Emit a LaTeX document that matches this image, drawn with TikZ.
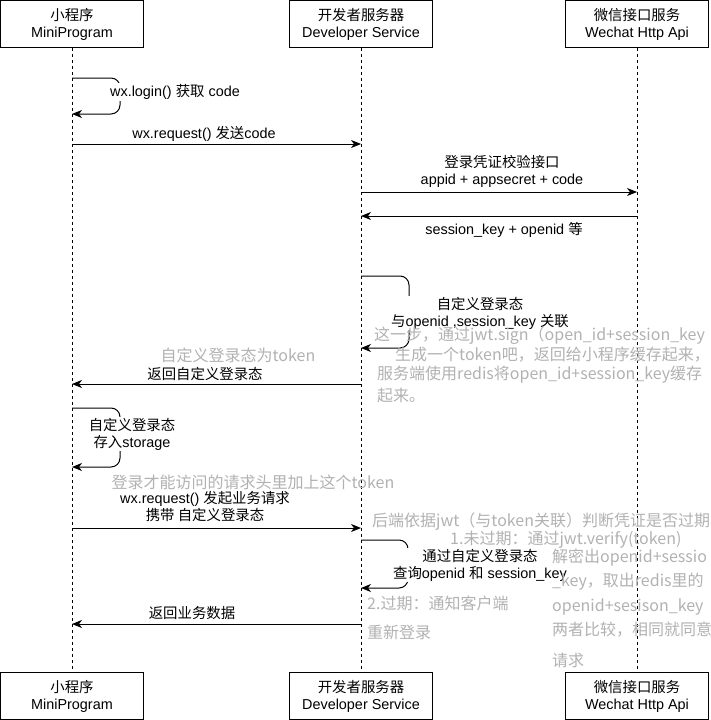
\documentclass[tikz,border=0pt]{standalone}
\usepackage{fontspec}
\setmainfont{Liberation Sans}
\newfontfamily\cjk{Noto Sans CJK SC}
\newcommand\zh[1]{{\cjk #1}}
\newcommand\lblfont{\fontsize{14.4}{17}\selectfont}
\usetikzlibrary{arrows.meta}
\definecolor{notegray}{RGB}{178,178,178}
\begin{document}
\begin{tikzpicture}[x=1pt,y=-1pt,
  box/.style={draw, line width=1pt, minimum width=143pt, minimum height=47pt, align=center, font=\lblfont, inner sep=0pt},
  life/.style={line width=1pt, dash pattern=on 3pt off 3pt},
  msg/.style={line width=1pt, -{Stealth[length=10pt,width=8pt,inset=3pt]}},
  lbl/.style={font=\lblfont, align=center, fill=white, inner sep=1pt},
  note/.style={font=\cjk\fontsize{16}{20}\selectfont, text=notegray, anchor=west, inner sep=0pt}]
\fill[white] (0,0) rectangle (710,720);
\useasboundingbox (0,0) rectangle (710,720);
% participant boxes
\node[box] (mpT) at (72,24) {\zh{小程序}\\MiniProgram};
\node[box] (dsT) at (361,24) {\zh{开发者服务器}\\Developer Service};
\node[box] (wxT) at (637,24) {\zh{微信接口服务}\\Wechat Http Api};
\node[box] (mpB) at (72,696) {\zh{小程序}\\MiniProgram};
\node[box] (dsB) at (361,696) {\zh{开发者服务器}\\Developer Service};
\node[box] (wxB) at (637,696) {\zh{微信接口服务}\\Wechat Http Api};
% lifelines
\draw[life] (mpT.south) -- (mpB.north);
\draw[life] (dsT.south) -- (dsB.north);
\draw[life] (wxT.south) -- (wxB.north);
% coordinates on lifelines
\coordinate (a1) at (72,78);  \coordinate (a2) at (72,114);
\coordinate (b1) at (72,144); \coordinate (b2) at (361,144);
\coordinate (c1) at (361,192); \coordinate (c2) at (637,192);
\coordinate (d1) at (637,216); \coordinate (d2) at (361,216);
\coordinate (e1) at (361,276); \coordinate (e2) at (361,348);
\coordinate (f1) at (361,384); \coordinate (f2) at (72,384);
\coordinate (g1) at (72,408);  \coordinate (g2) at (72,467);
\coordinate (h1) at (72,528);  \coordinate (h2) at (361,528);
\coordinate (i1) at (361,540); \coordinate (i2) at (361,588);
\coordinate (j1) at (361,624); \coordinate (j2) at (72,624);
% messages
\draw[msg, rounded corners=9pt] (a1) -- ++(48,0) -- ++(0,36) -- (a2);
\node[lbl] (la) at (175,92) {wx.login() \zh{获取} code};
\draw[msg] (b1) -- (b2);
\node[lbl] (lb) at (204,134) {wx.request() \zh{发送}code};
\draw[msg] (c1) -- (c2);
\node[lbl] (lc) at (502,171) {\zh{登录凭证校验接口}\\appid + appsecret + code};
\draw[msg] (d1) -- (d2);
\node[lbl] (ld) at (504,230) {session\_key + openid \zh{等}};
\draw[msg, rounded corners=9pt] (e1) -- ++(48,0) -- ++(0,72) -- (e2);
\node[lbl] (le) at (480,313) {\zh{自定义登录态}\\\zh{与}openid ,session\_key \zh{关联}};
\draw[msg] (f1) -- (f2);
\node[lbl] (lf) at (205,374) {\zh{返回自定义登录态}};
\draw[msg, rounded corners=9pt] (g1) -- ++(48,0) -- ++(0,59) -- (g2);
\node[lbl] (lg) at (132,434) {\zh{自定义登录态}\\\zh{存入}storage};
\draw[msg] (h1) -- (h2);
\node[lbl] (lh) at (205,507) {wx.request() \zh{发起业务请求}\\\zh{携带 自定义登录态}};
\draw[msg, rounded corners=9pt] (i1) -- ++(47,0) -- ++(0,48) -- (i2);
\node[lbl] (li) at (480,565) {\zh{通过自定义登录态}\\\zh{查询}openid \zh{和} session\_key};
\draw[msg] (j1) -- (j2);
\node[lbl] (lj) at (192,613) {\zh{返回业务数据}};
% gray notes
\node[note] (n1) at (374,336) {这一步，通过jwt.sign（open\_id+session\_key};
\node[note] (n2) at (395,355) {生成一个token吧，返回给小程序缓存起来，};
\node[note] (n3) at (377,375) {服务端使用redis将open\_id+session\_key缓存};
\node[note] (n4) at (377,395) {起来。};
\node[note, anchor=center] (n5) at (238,355) {自定义登录态为token};
\node[note, anchor=center] (n6) at (253,482) {登录才能访问的请求头里加上这个token};
\node[note] (n7) at (372,522) {后端依据jwt（与token关联）判断凭证是否过期};
\node[note] (n8) at (450,540) {1.未过期：通过jwt.verify(token)};
\node[note] (n9) at (552,558) {解密出openid+sessio};
\node[note] (n10) at (552,582) {\_key，取出redis里的};
\node[note] (n11) at (552,607) {openid+sesison\_key};
\node[note] (n12) at (552,630) {两者比较，相同就同意};
\node[note] (n13) at (552,660) {请求};
\node[note] (n14) at (367,603) {2.过期：通知客户端};
\node[note] (n15) at (367,632) {重新登录};
\end{tikzpicture}
\end{document}
